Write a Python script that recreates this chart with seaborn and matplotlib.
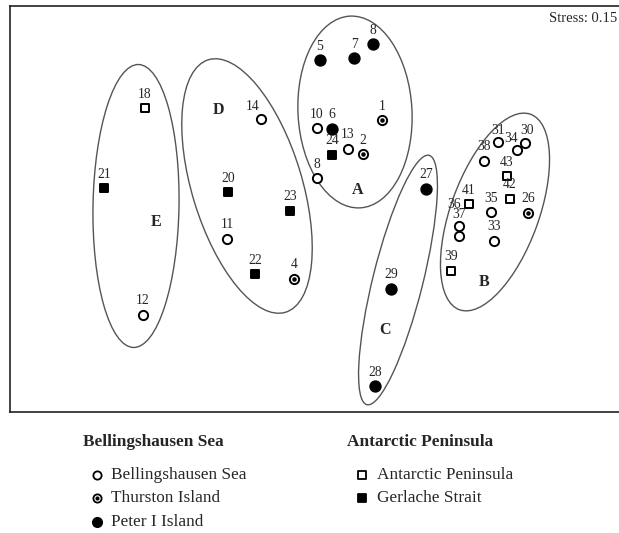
import numpy as np
import pandas as pd
import seaborn as sns
import matplotlib.pyplot as plt
from matplotlib.patches import Ellipse

# MDS ordination of stations, coordinates (y grows downwards)
stations = ["18", "21", "12", "14", "20", "23", "11", "22", "4",
            "5", "7", "8", "1", "10", "6", "13", "2", "24", "8",
            "27", "29", "28",
            "31", "30", "34", "38", "43", "42", "41", "35", "26", "37", "36", "33", "39"]
x_pos = [145, 104, 143, 261, 228, 290, 227, 255, 294,
         320, 354, 373, 382, 317, 332, 348, 363, 332, 317,
         426, 391, 375,
         498, 525, 517, 484, 507, 510, 469, 491, 528, 459, 459, 494, 451]
y_pos = [108, 188, 315, 119, 192, 211, 239, 274, 279,
         60, 58, 44, 120, 128, 129, 149, 154, 155, 178,
         189, 289, 386,
         142, 143, 150, 161, 176, 199, 204, 212, 213, 226, 236, 241, 271]
site = ["Antarctic Peninsula", "Gerlache Strait", "Bellingshausen Sea", "Bellingshausen Sea",
        "Gerlache Strait", "Gerlache Strait", "Bellingshausen Sea", "Gerlache Strait", "Thurston Island",
        "Peter I Island", "Peter I Island", "Peter I Island", "Thurston Island", "Bellingshausen Sea",
        "Peter I Island", "Bellingshausen Sea", "Thurston Island", "Gerlache Strait", "Bellingshausen Sea",
        "Peter I Island", "Peter I Island", "Peter I Island",
        "Bellingshausen Sea", "Bellingshausen Sea", "Bellingshausen Sea", "Bellingshausen Sea",
        "Antarctic Peninsula", "Antarctic Peninsula", "Antarctic Peninsula", "Bellingshausen Sea",
        "Thurston Island", "Bellingshausen Sea", "Bellingshausen Sea", "Bellingshausen Sea",
        "Antarctic Peninsula"]

# cluster ellipses: centre x, centre y, minor, major, tilt
clusters = ["A", "B", "C", "D", "E"]
cl_x = [355, 495, 398, 247, 136]
cl_y = [112, 212, 280, 186, 206]
cl_w = [114, 88, 50, 110, 86]
cl_h = [192, 208, 257, 264, 283]
cl_ang = [-3, 20, 14, -17, 1]
cl_lab_x = [358, 484, 385, 218, 156]
cl_lab_y = [190, 282, 330, 110, 222]

df = pd.DataFrame({"station": stations, "x": x_pos, "y": y_pos, "site": site})

styles = {
    "Bellingshausen Sea": dict(marker="o", s=44, facecolor="white", edgecolor="black"),
    "Thurston Island": dict(marker="o", s=44, facecolor="white", edgecolor="black"),
    "Peter I Island": dict(marker="o", s=56, facecolor="black", edgecolor="black"),
    "Antarctic Peninsula": dict(marker="s", s=36, facecolor="white", edgecolor="black"),
    "Gerlache Strait": dict(marker="s", s=40, facecolor="black", edgecolor="black"),
}
label_nudge = {"36": (-5, -32), "37": (0, -11), "34": (-6, -11), "14": (-8, -13),
               "31": (0, -12), "30": (2, -12)}

sns.set_theme(style="white")
plt.rcParams["font.family"] = ["Liberation Serif", "DejaVu Serif"]

W, H = 619, 533
fig = plt.figure(figsize=(W / 100, H / 100), dpi=100)
ax = fig.add_axes([10 / W, (H - 412) / H, 620 / W, 406 / H])
ax.set_xlim(10, 630)
ax.set_ylim(412, 6)
ax.set_xticks([])
ax.set_yticks([])
for sp in ax.spines.values():
    sp.set_color("#222222")
    sp.set_linewidth(1.2)

for i in range(len(clusters)):
    ax.add_patch(Ellipse((cl_x[i], cl_y[i]), cl_w[i], cl_h[i], angle=cl_ang[i],
                         fill=False, edgecolor="#555555", lw=1.0))
    ax.text(cl_lab_x[i], cl_lab_y[i], clusters[i], fontsize=11.5, fontweight="bold",
            ha="center", va="center")

for name, st in styles.items():
    sub = df[df["site"] == name]
    sns.scatterplot(data=sub, x="x", y="y", ax=ax, marker=st["marker"], s=st["s"],
                    color=st["facecolor"], edgecolor=st["edgecolor"], linewidth=1.4,
                    zorder=3, legend=False)
    if name == "Thurston Island":
        ax.scatter(sub["x"], sub["y"], s=5, color="black", zorder=4)

for _, r in df.iterrows():
    dx, dy = label_nudge.get(r["station"], (0, -14))
    ax.text(r["x"] + dx, r["y"] + dy, r["station"], fontsize=9.8, ha="center", va="center")

ax.text(617, 19, "Stress: 0.15", fontsize=10.5, ha="right", va="center")
ax.set_xlabel("")
ax.set_ylabel("")

# legend block below the plot
lg = fig.add_axes([0, 0, 1, (H - 412) / H])
lg.set_xlim(0, W)
lg.set_ylim(H, 412)
lg.axis("off")

left_items = ["Bellingshausen Sea", "Thurston Island", "Peter I Island"]
right_items = ["Antarctic Peninsula", "Gerlache Strait"]
row_y = [475, 498, 522]
lg.text(83, 442, "Bellingshausen Sea", fontsize=12.4, fontweight="bold", va="center")
lg.text(347, 442, "Antarctic Peninsula", fontsize=12.4, fontweight="bold", va="center")
for items, mx, tx in [(left_items, 97, 111), (right_items, 362, 377)]:
    for name, yy in zip(items, row_y):
        st = styles[name]
        lg.scatter([mx], [yy], marker=st["marker"], s=st["s"] * 0.8, color=st["facecolor"],
                   edgecolor=st["edgecolor"], linewidth=1.3)
        if name == "Thurston Island":
            lg.scatter([mx], [yy], s=4, color="black")
        lg.text(tx, yy, name, fontsize=12.4, va="center")

fig.savefig("out.png", dpi=100)
